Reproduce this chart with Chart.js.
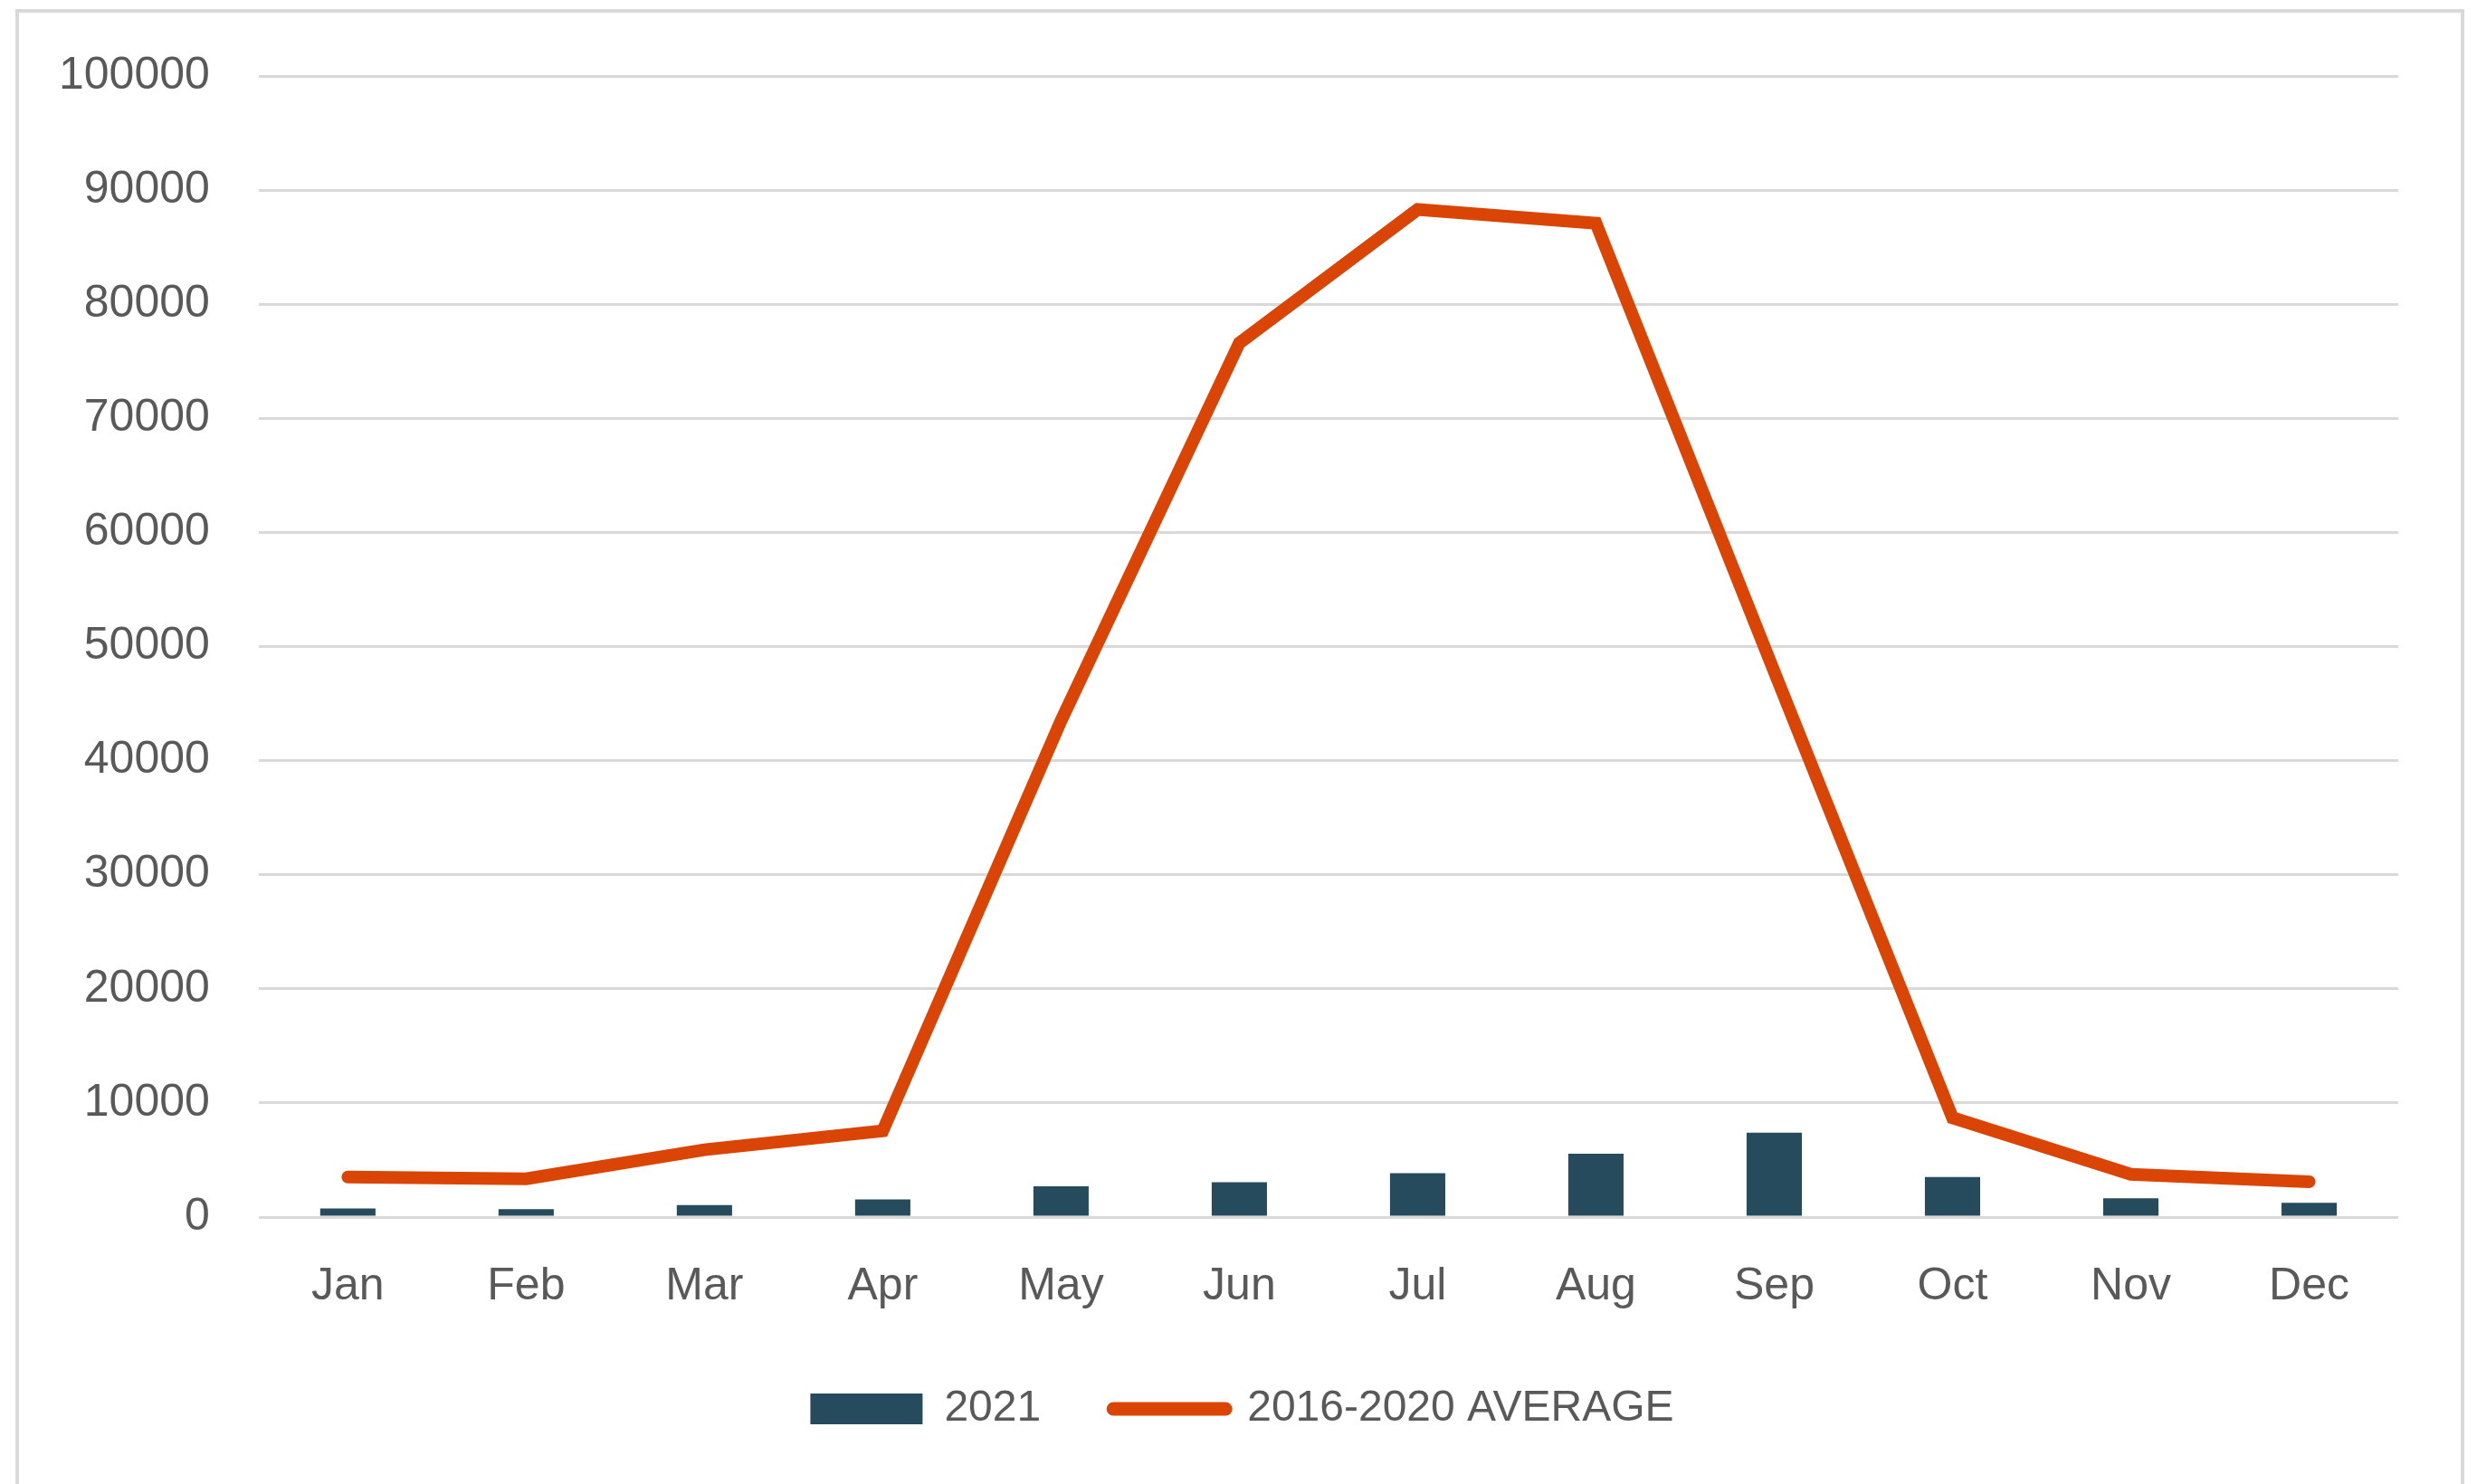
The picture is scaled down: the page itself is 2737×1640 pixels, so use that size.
<!DOCTYPE html>
<html>
<head>
<meta charset="utf-8">
<script src="https://cdn.jsdelivr.net/npm/chart.js@4/dist/chart.umd.min.js"></script>
<style>
  html, body { margin: 0; padding: 0; background: #ffffff; overflow: hidden; }
  #wrap { position: absolute; left: 0; top: 0; width: 2737px; height: 1680px; }
  #frame { position: absolute; left: 17px; top: 10px; width: 2706px; height: 1720px;
           box-sizing: border-box; border: 4px solid #d9d9d9; border-bottom: none;
           pointer-events: none; z-index: 2; }
</style>
</head>
<body>
<div id="wrap"><canvas id="c"></canvas></div>
<div id="frame"></div>
<script>
const categories = ['Jan', 'Feb', 'Mar', 'Apr', 'May', 'Jun', 'Jul', 'Aug', 'Sep', 'Oct', 'Nov', 'Dec'];
const values2021 = [750, 700, 1050, 1550, 2700, 3050, 3850, 5550, 7400, 3500, 1650, 1250];
const avg2016_2020 = [3500, 3350, 5900, 7550, 43500, 76600, 88300, 87100, 47800, 8700, 3750, 3100];
const seriesNames = ['2021', '2016-2020 AVERAGE'];
const yTicks = { min: 0, max: 100000, step: 10000 };

const barColor = '#264b5c';
const lineColor = '#da4405';
const textColor = '#595959';
const gridColor = '#d9d9d9';
const fontFamily = '"Liberation Sans", Arial, sans-serif';

// shift the legend row slightly right, as in the reference
const legendShift = {
  id: 'legendShift',
  afterLayout(chart) {
    if (chart.legend) {
      chart.legend.left += 42;
      chart.legend.right += 42;
    }
  }
};

new Chart(document.getElementById('c'), {
  type: 'bar',
  data: {
    labels: categories,
    datasets: [
      {
        type: 'bar',
        label: seriesNames[0],
        data: values2021,
        backgroundColor: barColor,
        borderWidth: 0,
        categoryPercentage: 1.0,
        barPercentage: 0.31,
        order: 1
      },
      {
        type: 'line',
        label: seriesNames[1],
        data: avg2016_2020,
        borderColor: lineColor,
        backgroundColor: lineColor,
        borderWidth: 14,
        borderCapStyle: 'round',
        borderJoinStyle: 'miter',
        tension: 0,
        pointRadius: 0,
        pointHoverRadius: 0,
        fill: false,
        order: 0
      }
    ]
  },
  plugins: [legendShift],
  options: {
    responsive: true,
    maintainAspectRatio: false,
    animation: false,
    devicePixelRatio: 1,
    layout: { padding: { left: 11, right: 87, top: 56, bottom: 89 } },
    plugins: {
      tooltip: { enabled: false },
      title: { display: false },
      legend: {
        display: true,
        position: 'bottom',
        align: 'center',
        labels: {
          usePointStyle: true,
          pointStyleWidth: 124,
          boxHeight: 34,
          padding: 80,
          color: textColor,
          font: { family: fontFamily, size: 48 },
          generateLabels: function(chart) {
            return [
              { text: seriesNames[0], fillStyle: barColor, strokeStyle: barColor, lineWidth: 0,
                pointStyle: 'rect', datasetIndex: 0, fontColor: textColor, hidden: false },
              { text: seriesNames[1], fillStyle: lineColor, strokeStyle: lineColor, lineWidth: 15,
                lineCap: 'round', pointStyle: 'line', datasetIndex: 1, fontColor: textColor, hidden: false }
            ];
          }
        }
      }
    },
    scales: {
      x: {
        offset: true,
        grid: { display: false, drawTicks: false },
        border: { display: false },
        ticks: { color: textColor, font: { family: fontFamily, size: 50 }, padding: 47, maxRotation: 0 },
        afterFit: function(scale) { scale.height = 108; }
      },
      y: {
        min: yTicks.min,
        max: yTicks.max,
        grid: { color: gridColor, lineWidth: 3, drawTicks: false },
        border: { display: false },
        ticks: {
          stepSize: yTicks.step,
          color: textColor,
          font: { family: fontFamily, size: 50 },
          padding: 54,
          callback: function(v) { return String(v); }
        }
      }
    }
  }
});
</script>
</body>
</html>
